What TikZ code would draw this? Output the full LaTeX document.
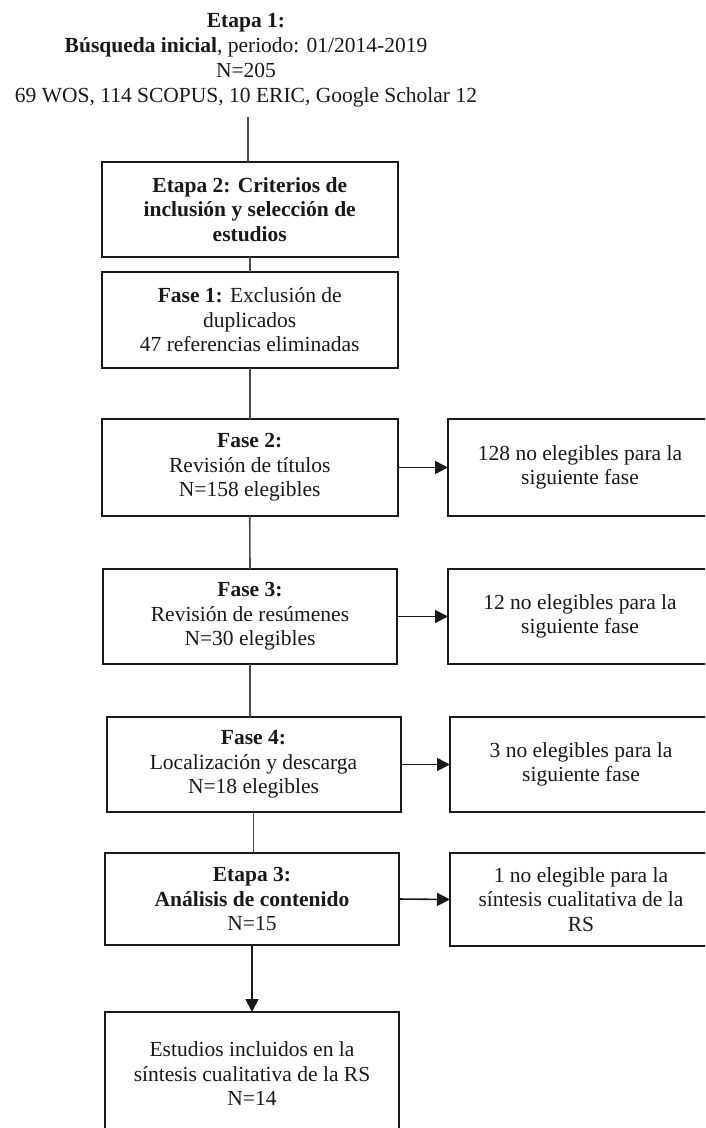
\documentclass[tikz,border=0pt]{standalone}
\usepackage{fontspec}
\setmainfont{Liberation Serif}
\usetikzlibrary{arrows.meta}
\begin{document}
\begin{tikzpicture}[x=1pt,y=-1pt,
  every node/.style={font=\fontsize{21.5}{24.5}\selectfont, align=center, text=black!90},
  box/.style={draw=black!90, line width=2pt, inner sep=0pt, outer sep=0pt},
  conn/.style={draw=black!70, line width=1.6pt},
  arr/.style={draw=black!90, line width=1.6pt, -{Triangle[length=13pt,width=13pt]}}
]
\useasboundingbox (0,0) rectangle (705,1128);
\clip (0,0) rectangle (705,1128);
\fill[white] (0,0) rectangle (705,1128);

\node[font=\fontsize{21.5}{25}\selectfont] (title) at (246,60.5)
  {\textbf{Etapa 1:}\\ \textbf{Búsqueda inicial}, periodo: 01/2014-2019\\ N=205\\ 69 WOS, 114 SCOPUS, 10 ERIC, Google Scholar 12};
\coordinate (t1) at (248,117);

\node[box, minimum width=295.5pt, minimum height=95pt] (e2) at (249.75,209.5)
  {\textbf{Etapa 2: Criterios de}\\ \textbf{inclusión y selección de}\\ \textbf{estudios}};
\node[box, minimum width=295.5pt, minimum height=96pt] (f1) at (249.75,320)
  {\textbf{Fase 1:} Exclusión de\\ duplicados\\ 47 referencias eliminadas};
\node[box, minimum width=295.5pt, minimum height=97pt] (f2) at (249.75,467.5)
  {\textbf{Fase 2:}\\ Revisión de títulos\\ N=158 elegibles};
\node[box, minimum width=294pt, minimum height=95pt] (f3) at (250,616.5)
  {\textbf{Fase 3:}\\ Revisión de resúmenes\\ N=30 elegibles};
\node[box, minimum width=294pt, minimum height=95pt] (f4) at (253.5,764.5)
  {\textbf{Fase 4:}\\ Localización y descarga\\ N=18 elegibles};
\node[box, minimum width=294pt, minimum height=92pt] (e3) at (252,899)
  {\textbf{Etapa 3:}\\ \textbf{Análisis de contenido}\\ N=15};
\node[box, minimum width=294pt, minimum height=124pt] (fin) at (252,1074)
  {Estudios incluidos en la\\ síntesis cualitativa de la RS\\ N=14};

\node[box, minimum width=264pt, minimum height=97pt] (r1) at (580,467.5)
  {128 no elegibles para la\\ siguiente fase};
\node[box, minimum width=264pt, minimum height=95pt] (r2) at (580,616.5)
  {12 no elegibles para la\\ siguiente fase};
\node[box, minimum width=262pt, minimum height=95pt] (r3) at (581,764.5)
  {3 no elegibles para la\\ siguiente fase};
\node[box, minimum width=262pt, minimum height=93pt] (r4) at (581,899.5)
  {1 no elegible para la\\ síntesis cualitativa de la\\ RS};

\draw[conn] (t1) -- (t1 |- e2.north);
\draw[conn] (e2.south) -- (f1.north);
\draw[conn] (f1.south) -- (f2.north);
\draw[conn] (f2.south) -- (f3.north);
\draw[conn] (f3.south) -- (f3.south |- f4.north);
\draw[conn] (f4.south) -- (f4.south |- e3.north);
\draw[arr] (e3.south) -- (fin.north);

\draw[arr] (f2.east) -- (r1.west);
\draw[arr] (f3.east) -- (r2.west);
\draw[arr] (f4.east) -- (r3.west);
\draw[arr] (e3.east) -- (r4.west);
\end{tikzpicture}
\end{document}
